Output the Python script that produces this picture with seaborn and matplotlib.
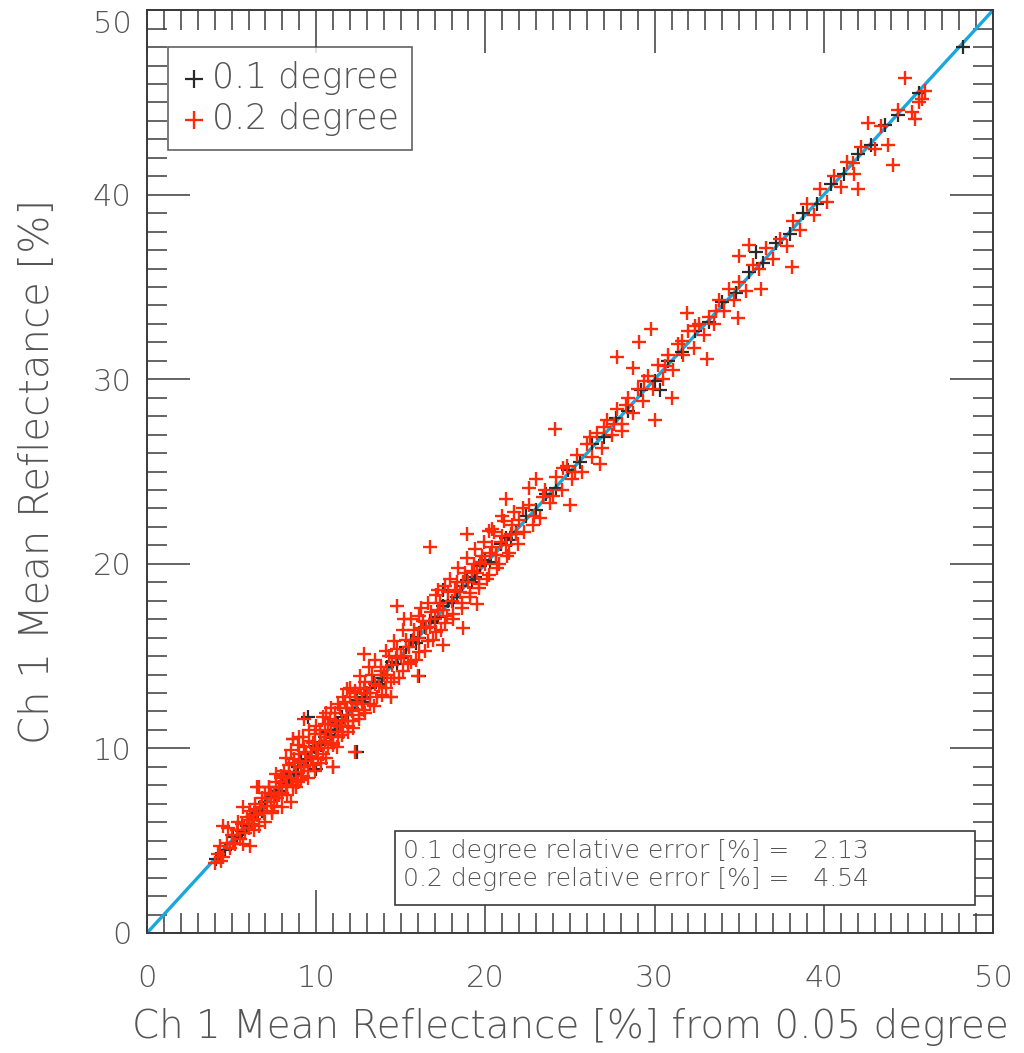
import matplotlib
matplotlib.use("Agg")
import matplotlib.pyplot as plt
import seaborn as sns
import pandas as pd
from matplotlib.patches import Rectangle

# ---- data: mean reflectance at coarser grids vs 0.05 degree ----
red_x = [
    4.0, 4.2, 4.5, 4.7, 4.9, 5.0, 5.2, 5.3, 5.5, 5.6, 5.8, 5.9, 6.0, 6.1, 6.2, 6.3, 6.4, 6.5, 6.6, 6.7,
    6.8, 6.9, 7.0, 7.1, 7.2, 7.3, 7.4, 7.5, 7.6, 7.7, 7.8, 7.9, 8.0,
    4.5, 6.1, 7.4, 8.5, 6.5,
    8.1, 8.2, 8.3, 8.4, 8.5, 8.6, 8.7, 8.8, 8.9, 9.0, 9.1, 9.2, 9.3, 9.4, 9.5, 9.6, 9.7, 9.8, 9.9, 10.0,
    10.1, 10.2, 10.3, 10.4, 10.5, 10.6, 10.7, 10.8, 10.9, 11.0, 11.1, 11.2, 11.3, 11.4, 11.5, 11.6, 11.7,
    11.8, 11.9, 12.0, 12.1, 12.2, 12.3, 12.4, 12.5, 12.6, 12.7, 12.8, 12.9,
    8.6, 9.3, 11.0, 12.3, 9.0, 10.6, 11.8,
    13.0, 13.2, 13.3, 13.5, 13.6, 13.8, 14.0, 14.1, 14.3, 14.5, 14.6, 14.8, 15.0, 15.1, 15.3, 15.5, 15.6,
    15.8, 16.0, 16.1, 16.3, 16.5, 16.6, 16.8, 17.0, 17.1, 17.3, 17.5, 17.6, 17.8, 18.0, 18.1, 18.3, 18.5,
    18.6, 18.8, 19.0, 19.1, 19.3, 19.5, 19.6, 19.8, 20.0, 20.2, 20.4, 20.6, 20.8, 21.0, 21.2, 21.4, 21.6, 21.8,
    12.8, 14.4, 16.0, 16.7, 15.2, 17.5, 19.5, 18.9, 14.8, 18.7, 20.4, 21.2, 16.2, 17.2,
    22.0, 22.3, 22.6, 22.9, 23.2, 23.5, 23.8, 24.2, 24.5, 24.8, 25.1, 25.4, 25.7, 26.0, 26.3, 26.6, 26.9,
    27.2, 27.5, 27.8, 28.1, 28.4, 28.7, 29.0, 29.3, 29.6, 29.9, 30.2, 30.5, 30.8, 31.1, 31.4, 31.7, 32.0,
    32.3, 32.6, 32.9, 33.2, 33.5, 33.8, 34.1, 34.4, 34.7,
    23.0, 24.1, 26.8, 27.8, 29.8, 31.0, 30.0, 31.9, 28.1, 25.0, 28.7, 29.1, 33.1, 34.9,
    35.0, 35.4, 35.8, 36.2, 36.6, 37.0, 37.4, 37.8, 38.2, 38.6, 39.0, 39.4, 39.8, 40.2, 40.6, 41.0, 41.4,
    41.8, 42.2, 42.6, 43.0, 43.4, 43.8, 44.1, 44.4, 44.8, 45.2, 45.4, 45.8, 46.0,
    35.0, 35.6, 38.1, 36.3, 42.0, 41.7, 45.6,
    4.3, 4.4, 4.8, 5.1, 5.4, 5.7, 5.7, 6.0, 6.3, 6.4, 6.6, 6.9, 7.0, 7.2, 7.3, 7.5, 7.6, 7.8, 7.9, 8.0,
    8.1, 8.2, 8.3, 8.4, 8.5, 8.6, 8.7, 8.8, 8.9, 9.0, 9.1, 9.2, 9.3, 9.4, 9.5, 9.6, 9.7, 9.8, 9.9, 10.0,
    10.1, 10.2, 10.3, 10.4, 10.5, 10.6, 10.7, 10.8, 10.9, 11.0, 11.1, 11.2, 11.3, 11.4, 11.5, 11.6, 11.7,
    11.8, 11.9, 12.0, 12.1, 12.2, 12.3, 12.4, 12.5, 12.6, 12.7, 12.8, 12.9,
    13.1, 13.2, 13.4, 13.5, 13.7, 13.8, 13.9, 14.1, 14.2, 14.4, 14.6, 14.7, 14.9, 15.1, 15.2, 15.4, 15.6,
    15.7, 15.9, 16.1, 16.2, 16.4, 16.6, 16.7, 16.9, 17.1, 17.2, 17.4, 17.6, 17.7, 17.9, 18.1, 18.2, 18.4,
    18.6, 18.7, 18.9, 19.1, 19.2, 19.4, 19.6, 19.7, 19.9, 20.1, 20.3, 20.5, 20.7, 20.9, 21.1, 21.3, 21.5,
    21.7, 21.9,
    22.2, 22.8, 23.4, 24.0, 24.6, 25.3, 26.2, 27.0, 27.6, 28.3, 29.4, 30.6, 31.6, 32.4, 33.6, 22.6, 21.0, 20.2,
]
red_y = [
    3.8, 4.3, 4.1, 4.9, 4.6, 5.3, 4.8, 5.6, 5.1, 5.9, 5.4, 6.3, 5.7, 6.6, 5.9, 6.2, 7.0, 6.4, 5.8, 6.8,
    7.3, 6.5, 7.6, 6.9, 7.9, 7.1, 6.6, 7.6, 8.2, 7.3, 7.9, 8.5, 7.6,
    5.8, 4.7, 6.5, 7.1, 7.9,
    8.8, 8.0, 7.5, 9.1, 8.4, 7.9, 9.4, 8.7, 8.2, 9.7, 9.0, 8.5, 10.1, 9.3, 8.8, 10.4, 9.6, 9.1, 10.8, 10.0,
    9.4, 11.0, 10.3, 9.7, 11.3, 10.6, 10.0, 11.6, 10.9, 10.3, 11.9, 11.2, 10.6, 12.2, 11.5, 10.9, 12.5,
    11.8, 11.2, 12.8, 12.1, 11.5, 13.0, 12.4, 11.8, 13.3, 12.7, 12.1, 13.6,
    10.5, 11.6, 9.0, 9.8, 10.6, 11.9, 13.2,
    13.0, 12.4, 14.0, 13.5, 12.8, 14.4, 14.0, 13.3, 15.0, 14.5, 13.8, 15.4, 15.0, 14.2, 15.9, 15.5, 14.7,
    16.4, 16.0, 15.2, 16.9, 16.5, 15.8, 17.4, 17.0, 16.3, 17.9, 17.5, 16.8, 18.5, 18.0, 17.3, 19.0, 18.5,
    17.9, 19.5, 19.0, 18.4, 20.0, 19.5, 18.9, 20.4, 20.0, 19.4, 20.9, 20.5, 20.0, 21.5, 21.0, 20.6, 22.1, 21.6,
    15.1, 12.8, 13.9, 20.9, 17.0, 15.6, 17.8, 21.6, 17.7, 16.5, 21.9, 23.5, 17.6, 18.6,
    22.4, 21.7, 23.2, 22.6, 22.5, 24.0, 23.3, 24.7, 24.0, 25.3, 24.6, 25.9, 25.0, 26.5, 25.8, 27.1, 26.3,
    27.8, 27.0, 28.4, 27.6, 29.0, 28.2, 29.5, 28.8, 30.2, 29.5, 30.8, 30.0, 31.3, 30.5, 31.9, 31.3, 32.6,
    31.7, 33.0, 32.4, 33.4, 33.0, 34.3, 33.7, 34.9, 34.3,
    24.6, 27.3, 25.4, 31.2, 32.7, 29.0, 27.8, 33.6, 27.2, 23.2, 30.6, 32.0, 31.1, 33.3,
    35.3, 34.8, 36.2, 36.0, 37.1, 36.5, 37.6, 37.2, 38.6, 38.1, 39.5, 38.9, 40.3, 39.6, 41.0, 40.4, 41.8,
    41.1, 42.6, 43.9, 42.5, 43.7, 42.7, 41.6, 44.6, 46.3, 44.5, 44.1, 45.2, 45.6,
    36.7, 37.3, 36.1, 34.9, 40.3, 41.7, 45.0,
    4.7, 3.9, 5.7, 4.9, 6.0, 4.8, 6.8, 6.1, 5.6, 6.7, 7.9, 6.5, 6.0, 7.9, 7.5, 6.9, 8.6, 7.5, 8.4, 6.8,
    8.5, 9.5, 8.0, 8.7, 9.9, 8.0, 9.2, 7.9, 10.2, 9.3, 8.3, 10.6, 9.0, 9.8, 8.4, 11.0, 9.5, 10.3, 8.8, 11.2,
    9.9, 10.8, 9.2, 11.7, 10.4, 9.5, 11.3, 10.6, 12.2, 10.2, 11.5, 10.1, 12.4, 11.2, 10.7, 12.8, 11.5,
    12.2, 10.9, 13.3, 12.0, 11.1, 13.1, 12.5, 11.6, 13.9, 12.4, 13.2, 11.9,
    14.4, 13.0, 12.3, 14.8, 13.4, 14.2, 12.9, 15.3, 14.0, 13.6, 15.8, 14.9, 13.8, 16.4, 15.0, 14.6, 17.0,
    15.9, 14.8, 17.2, 16.5, 15.3, 17.9, 16.6, 15.9, 18.3, 17.5, 16.4, 18.8, 17.2, 19.2, 17.0, 18.6, 19.8,
    17.6, 19.0, 20.3, 18.2, 19.6, 20.8, 18.7, 20.1, 21.2, 19.2, 20.6, 21.7, 19.8, 21.2, 22.3, 20.4, 21.6,
    22.8, 21.1,
    23.0, 22.1, 23.6, 23.7, 25.2, 25.0, 26.9, 27.4, 27.6, 28.6, 29.9, 30.7, 32.1, 32.9, 33.7, 24.1, 22.6, 21.8,
]

black_x = [
    4.1, 4.6, 5.1, 5.6, 6.2, 6.8, 7.3, 7.8, 8.2, 8.7, 9.1, 9.5, 9.9, 10.3, 10.7, 11.1, 11.5, 11.9, 12.4,
    12.9, 13.4, 13.9, 14.5, 15.0, 15.6, 16.1, 16.7, 17.2, 17.8, 18.3, 18.9, 19.4, 20.0, 20.6, 21.2, 21.8,
    22.4, 23.0, 23.6, 24.2, 24.9, 25.6, 26.3, 27.0, 27.7, 28.4, 29.2, 30.0, 30.8, 31.6, 32.4, 33.2, 34.0,
    34.8, 35.6, 36.4, 37.2, 38.0, 38.8, 39.6, 40.4, 41.2, 42.0, 42.8, 43.6, 44.4, 45.6, 48.2,
    9.5, 8.6, 12.4, 11.0, 14.4, 16.1, 10.0, 17.5, 30.3, 36.0,
    8.0, 8.4, 8.9, 9.3, 9.7, 10.1, 10.5, 10.9, 11.3, 11.7, 12.1, 12.7, 13.2, 13.7, 14.2, 14.8, 15.3,
    15.9, 16.4, 17.0, 17.5, 18.1, 18.6, 19.2, 19.7, 20.3, 20.9, 21.5, 6.5, 7.0, 7.6, 5.3, 5.9,
]
black_y = [
    4.0, 4.5, 5.2, 5.5, 6.3, 6.6, 7.4, 7.7, 8.4, 8.6, 9.3, 9.4, 10.1, 10.2, 10.9, 11.0, 11.7, 11.8, 12.6,
    12.8, 13.6, 13.8, 14.7, 14.9, 15.8, 16.0, 16.9, 17.1, 18.0, 18.2, 19.1, 19.3, 20.2, 20.5, 21.4, 21.7,
    22.6, 22.9, 23.8, 24.1, 25.1, 25.5, 26.5, 26.9, 27.9, 28.3, 29.4, 29.9, 31.0, 31.5, 32.6, 33.1, 34.2,
    34.7, 35.8, 36.3, 37.4, 37.9, 39.0, 39.5, 40.6, 41.1, 42.2, 42.7, 43.8, 44.3, 45.5, 48.0,
    11.7, 10.5, 9.8, 9.0, 12.8, 13.9, 8.9, 18.6, 29.4, 36.9,
    8.1, 8.3, 9.0, 9.1, 9.8, 10.0, 10.6, 10.7, 11.4, 11.5, 12.2, 12.5, 13.3, 13.5, 14.4, 14.6, 15.5,
    15.7, 16.6, 16.8, 17.7, 17.9, 18.8, 19.0, 19.9, 20.1, 21.1, 21.3, 6.4, 7.1, 7.5, 5.3, 5.8,
]

one_to_one = [0, 50]
series_labels = ["0.1 degree", "0.2 degree"]
error_labels = ["0.1 degree relative error [%] =   2.13",
                "0.2 degree relative error [%] =   4.54"]
ticks = [0, 10, 20, 30, 40, 50]

# ---- styling ----
sns.set_theme(style="ticks")
plt.rcParams["font.family"] = ["DejaVu Sans"]
plt.rcParams["font.weight"] = "light"
plt.rcParams["axes.labelweight"] = "light"
text_col = "#555555"
frame_col = "#3a3a3a"
red_col = "#ff2a0a"
black_col = "#2a2a2a"
blue_col = "#1aa7dd"

fig = plt.figure(figsize=(10.24, 10.53), dpi=100)
ax = fig.add_axes([0.1436, 0.114, 0.8261, 0.8763])

sns.lineplot(x=one_to_one, y=one_to_one, ax=ax, color=blue_col, lw=2.4, zorder=1)

df_black = pd.DataFrame({"x": black_x, "y": black_y})
df_red = pd.DataFrame({"x": red_x, "y": red_y})
sns.scatterplot(data=df_black, x="x", y="y", ax=ax, marker="+", s=110,
                linewidth=1.6, color=black_col, label=series_labels[0], zorder=2)
sns.scatterplot(data=df_red, x="x", y="y", ax=ax, marker="+", s=110,
                linewidth=1.7, color=red_col, label=series_labels[1], zorder=3)

ax.set_xlim(0, 50)
ax.set_ylim(0, 50)
ax.set_xticks(ticks)
ax.set_yticks(ticks)
ax.set_xticks(range(0, 51), minor=True)
ax.set_yticks(range(0, 51), minor=True)
ax.tick_params(which="both", direction="in", top=True, right=True,
               color=frame_col, width=1.1, labelcolor=text_col, labelsize=22)
ax.tick_params(which="major", length=31)
ax.tick_params(which="minor", length=14.5)
ax.tick_params(axis="x", which="major", pad=22)
ax.tick_params(axis="y", which="major", pad=11)
for sp in ax.spines.values():
    sp.set_color(frame_col)
    sp.set_linewidth(1.4)
# keep the top y label inside the frame height
ax.yaxis.get_major_ticks()[-1].label1.set_verticalalignment("top")

ax.set_xlabel("Ch 1 Mean Reflectance [%] from 0.05 degree", fontsize=28,
              color=text_col, fontweight="light")
ax.set_ylabel("Ch 1 Mean Reflectance [%]", fontsize=29, color=text_col, fontweight="light")
ax.xaxis.set_label_coords(0.5, -0.081)
ax.yaxis.set_label_coords(-0.106, 0.5)

leg = ax.legend(loc="upper left", bbox_to_anchor=(0.025, 0.960), borderaxespad=0,
                frameon=True, fancybox=False, edgecolor=frame_col, fontsize=25,
                handlelength=0.7, handletextpad=0.15, labelspacing=0.2, borderpad=0.4,
                markerscale=1.3)
leg.get_frame().set_linewidth(1.2)
for t in leg.get_texts():
    t.set_color(text_col)

# relative error summary box
ax.add_patch(Rectangle((0.293, 0.030), 0.686, 0.080, transform=ax.transAxes,
                       fill=True, facecolor="white", edgecolor=frame_col, lw=1.2, zorder=4))
for yy, s in zip([0.089, 0.058], error_labels):
    ax.text(0.303, yy, s, transform=ax.transAxes, fontsize=18, color=text_col,
            va="center", ha="left", zorder=5)

fig.savefig("out.png", dpi=100)
